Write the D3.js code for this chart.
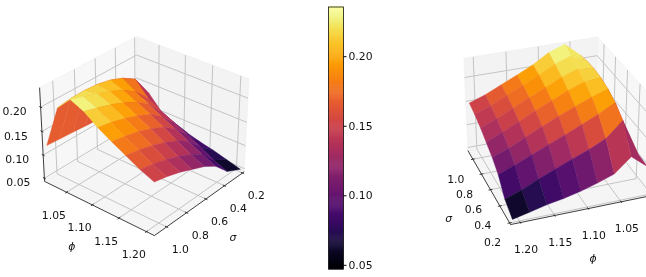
<!DOCTYPE html>
<html>
<head>
<meta charset="utf-8">
<script src="https://cdn.jsdelivr.net/npm/d3@7"></script>
<style>
  html, body { margin: 0; padding: 0; background: #fff; }
  svg { display: block; filter: blur(0.35px); }
  text { font-family: 'DejaVu Sans', sans-serif; font-size: 10.8px; fill: #111; }
</style>
</head>
<body>
<svg id="chart" width="646" height="277"></svg>
<script>
const sigmaValues = [0.2, 0.35, 0.48, 0.6, 0.73, 0.85, 0.98, 1.1];
const phiValues = [1.01, 1.035, 1.06, 1.085, 1.11, 1.135, 1.16, 1.185, 1.21];

// one row per sigma, one column per phi
const zRows = [
  [0.103, 0.130, 0.101, 0.089, 0.079, 0.071, 0.065, 0.057, 0.049],
  [0.106, 0.180, 0.150, 0.134, 0.121, 0.107, 0.093, 0.077, 0.065],
  [0.109, 0.197, 0.180, 0.165, 0.150, 0.136, 0.122, 0.107, 0.094],
  [0.112, 0.207, 0.197, 0.184, 0.170, 0.155, 0.139, 0.123, 0.110],
  [0.114, 0.213, 0.210, 0.198, 0.183, 0.168, 0.152, 0.136, 0.122],
  [0.116, 0.215, 0.220, 0.209, 0.193, 0.178, 0.162, 0.146, 0.133],
  [0.118, 0.214, 0.229, 0.218, 0.201, 0.185, 0.170, 0.154, 0.142],
  [0.120, 0.210, 0.238, 0.226, 0.206, 0.190, 0.175, 0.160, 0.148]
];

const sigmaTicks = [0.2, 0.4, 0.6, 0.8, 1.0];
const phiTicks = [1.05, 1.1, 1.15, 1.2];
const zTicks = [0.05, 0.1, 0.15, 0.2];
const colorTicks = [0.05, 0.1, 0.15, 0.2];
const colorRange = [0.047, 0.2354];

const svg = d3.select('svg#chart');
const color = d3.scaleSequential(d3.interpolateInferno).domain(colorRange);

// limits get the same small padding matplotlib gives its panes
const padded = (values) => {
  const [lo, hi] = d3.extent(values);
  return [lo - (hi - lo) / 48, hi + (hi - lo) / 48];
};
const xBox = d3.scaleLinear().domain(padded(sigmaValues)).range([0, 1]);
const yBox = d3.scaleLinear().domain(padded(phiValues)).range([0, 1]);
const zBox = d3.scaleLinear().domain(padded(colorRange)).range([0, 1]);

function makeCamera (view) {
  const az = view.azim * Math.PI / 180;
  const el = view.elev * Math.PI / 180;
  const d = [Math.cos(el) * Math.cos(az), Math.cos(el) * Math.sin(az), Math.sin(el)];
  const u = [-Math.sin(az), Math.cos(az), 0];
  const v = [-Math.sin(el) * Math.cos(az), -Math.sin(el) * Math.sin(az), Math.cos(el)];
  const dot = (a, b) => a[0] * b[0] + a[1] * b[1] + a[2] * b[2];
  const toView = (b) => [(b[0] - 0.5) * view.box[0], (b[1] - 0.5) * view.box[1], (b[2] - 0.5) * view.box[2]];
  const depth = (b) => dot(toView(b), d);
  const sx = d3.scaleLinear().domain([0, 1]).range([view.cx, view.cx + view.k]);
  const sy = d3.scaleLinear().domain([0, 1]).range([view.cy, view.cy - view.k]);
  const point = (b) => {
    const p = toView(b);
    const f = view.dist / (view.dist - dot(p, d));
    return [sx(dot(p, u) * f), sy(dot(p, v) * f)];
  };
  return {point, depth, d};
}

function drawPanel (view) {
  const cam = makeCamera(view);
  const g = svg.append('g');
  const line = d3.line();
  const xFar = cam.d[0] > 0 ? 0 : 1;
  const yFar = cam.d[1] > 0 ? 0 : 1;
  const xNear = 1 - xFar;
  const yNear = 1 - yFar;

  // panes
  const panes = [
    {fill: '#f3f3f3', pts: [[xFar, 0, 0], [xFar, 1, 0], [xFar, 1, 1], [xFar, 0, 1]]},
    {fill: '#f7f7f7', pts: [[0, yFar, 0], [1, yFar, 0], [1, yFar, 1], [0, yFar, 1]]},
    {fill: '#f5f5f5', pts: [[0, 0, 0], [1, 0, 0], [1, 1, 0], [0, 1, 0]]}
  ];
  g.selectAll('path.pane').data(panes).join('path')
    .attr('class', 'pane')
    .attr('d', d => line(d.pts.map(cam.point)) + 'Z')
    .attr('fill', d => d.fill)
    .attr('stroke', '#eeeeee')
    .attr('stroke-width', 0.6);

  // grid lines on the three far panes
  const gridLines = [];
  sigmaTicks.forEach(t => {
    const x = xBox(t);
    gridLines.push([[x, yNear, 0], [x, yFar, 0], [x, yFar, 1]]);
  });
  phiTicks.forEach(t => {
    const y = yBox(t);
    gridLines.push([[xNear, y, 0], [xFar, y, 0], [xFar, y, 1]]);
  });
  zTicks.forEach(t => {
    const z = zBox(t);
    gridLines.push([[xNear, yFar, z], [xFar, yFar, z], [xFar, yNear, z]]);
  });
  g.selectAll('path.grid').data(gridLines).join('path')
    .attr('class', 'grid')
    .attr('d', d => line(d.map(cam.point)))
    .attr('fill', 'none')
    .attr('stroke', '#c4c4c4')
    .attr('stroke-width', 1);

  // axis lines with ticks
  const axisLines = [
    [[xNear, 0, 0], [xNear, 1, 0]],
    [[0, yNear, 0], [1, yNear, 0]],
    [[view.zSide[0], view.zSide[1], 0], [view.zSide[0], view.zSide[1], 1]]
  ];
  const tickLen = 0.014;
  sigmaTicks.forEach(t => {
    const x = xBox(t);
    axisLines.push([[x, yNear + (yNear ? tickLen : -tickLen), 0], [x, yNear - (yNear ? tickLen : -tickLen), 0]]);
  });
  phiTicks.forEach(t => {
    const y = yBox(t);
    axisLines.push([[xNear + (xNear ? tickLen : -tickLen), y, 0], [xNear - (xNear ? tickLen : -tickLen), y, 0]]);
  });
  zTicks.forEach(t => {
    const z = zBox(t);
    const s = view.zSide;
    axisLines.push([[s[0], s[1] + (s[1] ? tickLen : -tickLen), z], [s[0], s[1] - (s[1] ? tickLen : -tickLen), z]]);
  });
  g.selectAll('path.axis').data(axisLines).join('path')
    .attr('class', 'axis')
    .attr('d', d => line(d.map(cam.point)))
    .attr('fill', 'none')
    .attr('stroke', '#111')
    .attr('stroke-width', 0.8);

  // surface cells, far ones first
  const cells = [];
  for (let s = 0; s < sigmaValues.length - 1; s++) {
    for (let q = 0; q < phiValues.length - 1; q++) {
      const corners = [[s, q], [s + 1, q], [s + 1, q + 1], [s, q + 1]]
        .map(([i, j]) => [xBox(sigmaValues[i]), yBox(phiValues[j]), zBox(zRows[i][j]), zRows[i][j]]);
      cells.push({
        corners,
        value: d3.mean(corners, c => c[3]),
        depth: d3.mean(corners, c => cam.depth(c))
      });
    }
  }
  cells.sort((a, b) => a.depth - b.depth);
  g.selectAll('path.cell').data(cells).join('path')
    .attr('class', 'cell')
    .attr('d', d => line(d.corners.map(cam.point)) + 'Z')
    .attr('fill', d => color(d.value))
    .attr('stroke', d => color(d.value))
    .attr('stroke-width', 0.4);

  // tick labels
  const labels = [];
  sigmaTicks.forEach(t => {
    labels.push({p: [xBox(t), yNear, 0], off: view.sigmaOff, text: d3.format('.1f')(t)});
  });
  phiTicks.forEach(t => {
    labels.push({p: [xNear, yBox(t), 0], off: view.phiOff, text: d3.format('.2f')(t)});
  });
  if (view.zOff) {
    zTicks.forEach(t => {
      labels.push({p: [view.zSide[0], view.zSide[1], zBox(t)], off: view.zOff, text: d3.format('.2f')(t)});
    });
  }
  g.selectAll('text.tick').data(labels).join('text')
    .attr('class', 'tick')
    .attr('x', d => cam.point(d.p)[0] + d.off[0])
    .attr('y', d => cam.point(d.p)[1] + d.off[1])
    .attr('text-anchor', 'middle')
    .attr('dominant-baseline', 'central')
    .text(d => d.text);

  g.selectAll('text.name').data(view.names).join('text')
    .attr('class', 'name')
    .attr('x', d => d.x)
    .attr('y', d => d.y)
    .attr('text-anchor', 'middle')
    .attr('dominant-baseline', 'central')
    .style('font-style', 'italic')
    .text(d => d.text);
}

drawPanel({
  azim: 40, elev: 31, dist: 10, box: [1.24, 1.24, 0.93],
  cx: 145, cy: 131, k: 117,
  zSide: [1, 0],
  sigmaOff: [13.7, 22.7], phiOff: [-12.7, 23], zOff: [-26, 4.7],
  names: [{text: 'ϕ', x: 71.7, y: 246}, {text: 'σ', x: 233, y: 237}]
});

drawPanel({
  azim: 160, elev: 30, dist: 10, box: [1.24, 1.24, 0.93],
  cx: 556, cy: 126.5, k: 117,
  zSide: [0, 0],
  sigmaOff: [-17, 20], phiOff: [5.7, 27],
  names: [{text: 'σ', x: 448.7, y: 218}, {text: 'ϕ', x: 593, y: 258}]
});

// colour bar
const barY = d3.scaleLinear().domain(colorRange).range([269, 7]);
const barSteps = d3.range(0, 256).map(i => colorRange[0] + (colorRange[1] - colorRange[0]) * i / 255);
const bar = svg.append('g').attr('transform', 'translate(328.5,0)');
bar.selectAll('rect').data(barSteps).join('rect')
  .attr('x', 0)
  .attr('width', 15)
  .attr('y', (d, i) => barY(d) - 262 / 255)
  .attr('height', 262 / 255 + 0.5)
  .attr('fill', d => color(d));
bar.append('rect')
  .attr('y', barY.range()[1])
  .attr('width', 15)
  .attr('height', barY.range()[0] - barY.range()[1])
  .attr('fill', 'none')
  .attr('stroke', '#111')
  .attr('stroke-width', 0.8);
const barAxis = d3.axisRight(barY).tickValues(colorTicks).tickFormat(d3.format('.2f')).tickSize(3).tickPadding(2);
bar.append('g').attr('transform', 'translate(15,0)').call(barAxis)
  .call(a => a.select('.domain').remove());
</script>
</body>
</html>
